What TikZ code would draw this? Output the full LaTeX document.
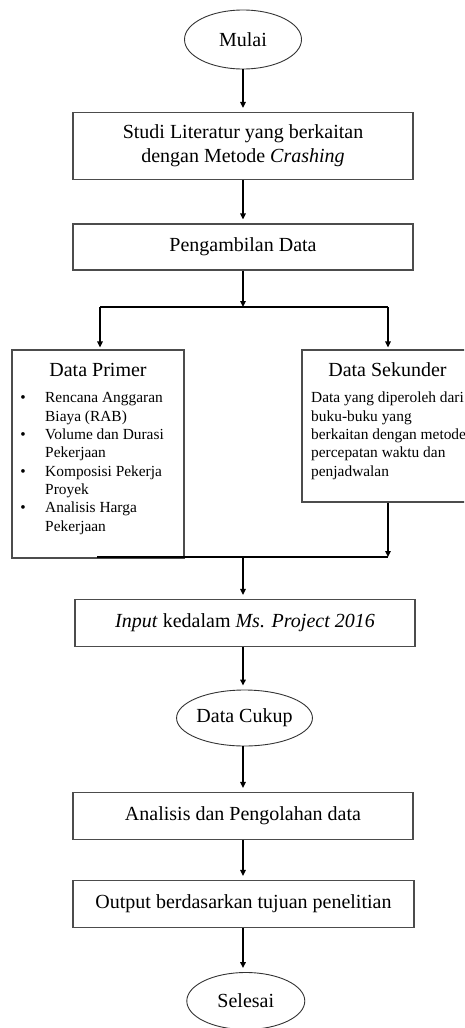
\documentclass[tikz,border=0pt]{standalone}
\usepackage{fontspec}
\setmainfont{Liberation Serif}
\usetikzlibrary{shapes.geometric,arrows.meta}
\begin{document}
\begin{tikzpicture}[x=1pt,y=-1pt,
  box/.style={draw=black!70,line width=1.2pt,rectangle,inner sep=0pt,align=center,font=\fontsize{20}{24.4}\selectfont},
  oval/.style={draw=black!80,line width=0.9pt,ellipse,inner sep=0pt,font=\fontsize{20}{24}\selectfont},
  arr/.style={line width=1.5pt,-{Triangle[length=6pt,width=5.5pt]},shorten >=4pt},
  ln/.style={line width=1.5pt},
  head/.style={anchor=base,inner sep=0pt,font=\fontsize{20}{24}\selectfont},
  sm/.style={anchor=base west,inner sep=0pt,font=\fontsize{15.4}{18.4}\selectfont},
  bul/.style={anchor=base,inner sep=0pt,font=\fontsize{15.4}{18.4}\selectfont}
]
\useasboundingbox (0,0) rectangle (464,1028);
\clip (0,0) rectangle (464,1028);

\node[oval,minimum width=117pt,minimum height=59pt] (mulai) at (243,39.5) {Mulai};
\node[box,minimum width=340pt,minimum height=67pt] (studi) at (243,146) {Studi Literatur yang berkaitan\\dengan Metode \textit{Crashing}};
\node[box,minimum width=340pt,minimum height=46pt] (ambil) at (243,247) {Pengambilan Data};
\node[box,minimum width=172pt,minimum height=208pt] (primer) at (98,454) {};
\node[box,minimum width=178pt,minimum height=152pt] (sek) at (391,426) {};
\node[box,minimum width=340pt,minimum height=47pt] (input) at (245,623) {\textit{Input} kedalam \textit{Ms. Project 2016}};
\node[oval,minimum width=117pt,minimum height=56pt] (cukup) at (244.5,718) {Data Cukup};
\node[box,minimum width=340pt,minimum height=47pt] (anal) at (243,816) {Analisis dan Pengolahan data};
\node[box,minimum width=341pt,minimum height=47pt] (outp) at (243.5,904) {Output berdasarkan tujuan penelitian};
\node[oval,minimum width=118pt,minimum height=57pt] (selesai) at (245.8,1001) {Selesai};

% left box content
\node[head] (hp) at (98,376) {Data Primer};
\node[bul] (b1) at (23,402.7) {\textbullet};
\node[bul] (b2) at (23,439.3) {\textbullet};
\node[bul] (b3) at (23,476) {\textbullet};
\node[bul] (b4) at (23,512.7) {\textbullet};
\node[sm] (p1) at (45,402.7) {Rencana Anggaran};
\node[sm] (p2) at (45,421) {Biaya (RAB)};
\node[sm] (p3) at (45,439.3) {Volume dan Durasi};
\node[sm] (p4) at (45,457.7) {Pekerjaan};
\node[sm] (p5) at (45,476) {Komposisi Pekerja};
\node[sm] (p6) at (45,494.3) {Proyek};
\node[sm] (p7) at (45,512.7) {Analisis Harga};
\node[sm] (p8) at (45,531) {Pekerjaan};

% right box content
\node[head] (hs) at (387.5,376) {Data Sekunder};
\node[sm] (s1) at (311,402.7) {Data yang diperoleh dari};
\node[sm] (s2) at (311,421) {buku-buku yang};
\node[sm] (s3) at (311,439.3) {berkaitan dengan metode};
\node[sm] (s4) at (311,457.7) {percepatan waktu dan};
\node[sm] (s5) at (311,476) {penjadwalan};

% coordinates
\coordinate (jc) at (243,307);
\coordinate (jl) at (100,307);
\coordinate (jr) at (388,307);
\coordinate (jbr) at (388,557);
\coordinate (jbl) at (97,557);
\coordinate (jbc) at (243,557);

% connectors
\draw[arr] (jc |- mulai.south) -- (jc |- studi.north);
\draw[arr] (jc |- studi.south) -- (jc |- ambil.north);
\draw[arr,shorten >=0pt] (jc |- ambil.south) -- (jc);
\draw[ln] (jl) -- (jr);
\draw[arr,shorten >=2pt] (jl) -- (jl |- primer.north);
\draw[arr,shorten >=2pt] (jr) -- (jr |- sek.north);
\draw[arr,shorten >=0pt] (jbr |- sek.south) -- (jbr);
\draw[ln] (jbl) -- (jbr);
\draw[arr] (jbc) -- (jbc |- input.north);
\draw[arr] (jc |- input.south) -- (jc |- cukup.north);
\draw[arr] (jc |- cukup.south) -- (jc |- anal.north);
\draw[arr] (jc |- anal.south) -- (jc |- outp.north);
\draw[arr] (jc |- outp.south) -- (jc |- selesai.north);
\end{tikzpicture}
\end{document}
